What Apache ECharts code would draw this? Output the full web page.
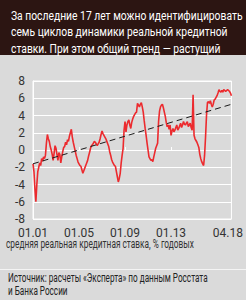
<!DOCTYPE html>
<html>
<head>
<meta charset="utf-8">
<script src="https://cdn.jsdelivr.net/npm/echarts@6/dist/echarts.min.js"></script>
<style>
html,body{margin:0;padding:0;background:#dadada;}
#c{width:246px;height:300px;}
</style>
</head>
<body>
<div id="c"></div>
<script>
// Monthly real lending rate, Jan 2001 .. Apr 2018 (% per year)
var rateValues = [
-1.6,-2.5,-4.5,-6.0,-4.0,-2.5,-2.0,-1.5,-1.8,-1.0,-1.3,-0.8,
-1.0,-0.6,0.8,1.8,1.3,1.0,0.4,0.0,-0.5,-1.2,-0.4,0.5,
0.2,-0.5,-1.2,-0.3,-0.5,-1.5,-0.8,-0.2,0.3,0.4,0.9,0.6,
1.2,1.0,1.6,2.0,2.4,1.5,0.9,0.4,-0.1,-0.6,-1.0,-1.4,
-1.6,-1.8,-1.9,-2.3,-2.7,-2.4,-2.1,-1.8,-1.5,-1.2,-0.7,-0.3,
0.2,0.5,0.6,0.8,1.0,0.9,0.7,0.5,0.7,0.9,1.3,1.8,
2.2,1.9,1.7,1.5,1.3,1.0,0.7,0.4,-0.2,-0.6,-1.1,-1.4,
-1.6,-1.8,-1.9,-2.5,-3.1,-3.7,-3.3,-2.7,-1.5,-0.6,0.2,2.3,
3.3,2.1,2.9,3.3,3.5,2.9,2.5,3.2,3.6,3.9,4.1,4.3,
4.4,5.4,5.2,5.0,5.3,5.5,5.0,4.4,3.4,2.5,1.7,0.8,
0.0,-0.8,-1.0,-1.2,-1.1,-1.35,-0.8,-0.3,0.2,0.5,0.8,3.3,
4.5,5.0,5.2,5.3,4.9,4.4,3.9,3.2,2.7,2.9,2.4,2.9,
1.7,2.2,2.5,2.1,2.3,2.6,2.9,2.3,2.5,2.8,3.1,2.6,
2.9,3.3,3.0,2.9,3.1,3.3,2.7,2.9,3.1,2.6,2.3,6.4,
1.7,1.3,1.1,0.9,0.6,0.3,-0.5,-1.0,-1.35,-1.6,-1.8,-0.6,
1.5,4.0,5.5,5.6,5.4,5.7,5.3,5.0,5.3,5.8,5.9,6.1,
6.3,6.6,7.0,6.8,6.7,6.9,6.7,7.0,6.9,6.8,6.9,7.0,
6.9,6.8,6.6,6.3
];
var trendValues = [-1.6, 5.3];
var tickLabels = ["01.01", "01.05", "01.09", "01.13", "04.18"];
var yTicks = [-8, -6, -4, -2, 0, 2, 4, 6, 8];

var titleLines = ["За последние 17 лет можно идентифицировать", "семь циклов динамики реальной кредитной", "ставки. При этом общий тренд — растущий"];
var captionText = "средняя реальная кредитная ставка, % годовых";
var sourceLines = ["Источник: расчеты «Эксперта» по данным Росстата", "и Банка России"];

// categories: months Jan 2001 .. Apr 2018 as MM.YY
var categories = [];
for (var y = 2001; y <= 2018; y++) {
  for (var m = 1; m <= 12; m++) {
    if (y === 2018 && m > 4) break;
    categories.push((m < 10 ? "0" + m : "" + m) + "." + String(y).slice(2));
  }
}
var trendData = [[categories[0], trendValues[0]], [categories[categories.length - 1], trendValues[1]]];

var FONT = "Roboto, 'DejaVu Sans', sans-serif";
var ctx = document.createElement('canvas').getContext('2d');
function fitScale(text, size, target) {
  ctx.font = size + 'px ' + FONT;
  return target / ctx.measureText(text).width;
}
var titleScale = fitScale(titleLines[0], 13.5, 232);
var captionScale = fitScale(captionText, 12, 188);
var sourceScale = fitScale(sourceLines[0], 12, 200);
var tickScale = 0.82;

var chart = echarts.init(document.getElementById('c'), null, {renderer: 'svg'});
chart.setOption({
  animation: false,
  backgroundColor: '#dadada',
  grid: {left: 33, right: 11, top: 81, bottom: 81, show: true, borderColor: '#ffffff', borderWidth: 1},
  xAxis: {
    type: 'category',
    data: categories,
    boundaryGap: false,
    axisLine: {show: true, lineStyle: {color: '#ffffff', width: 1}},
    axisTick: {show: true, inside: true, length: 3, lineStyle: {color: '#ffffff'},
      interval: function (i, v) { return tickLabels.indexOf(v) >= 0; }},
    axisLabel: {
      interval: function (i, v) { return tickLabels.indexOf(v) >= 0; },
      color: '#333333', fontFamily: FONT, fontSize: 12, margin: 8,
      formatter: function (v) { return v === tickLabels[tickLabels.length - 1] ? '{r|' + v + '}' : v; },
      rich: {r: {color: '#333333', fontFamily: FONT, fontSize: 12, padding: [0, 7, 0, 0]}}
    },
    splitLine: {show: false}
  },
  yAxis: {
    type: 'value', min: yTicks[0], max: yTicks[yTicks.length - 1], interval: 2,
    axisLine: {show: true, lineStyle: {color: '#ffffff', width: 1}},
    axisTick: {show: false},
    axisLabel: {color: '#333333', fontFamily: FONT, fontSize: 12, margin: 8},
    splitLine: {show: true, lineStyle: {color: '#ffffff', width: 1}}
  },
  series: [
    {
      type: 'line', data: rateValues, symbol: 'none', z: 3,
      lineStyle: {color: '#ec2a2e', width: 1.6}
    },
    {
      type: 'line', data: trendData, symbol: 'none', z: 4,
      lineStyle: {color: '#1a1a1a', width: 1, type: [6, 4]}
    }
  ],
  graphic: [
    {type: 'rect', x: 0, y: 0, shape: {width: 246, height: 55}, style: {fill: '#2c1512'}, z: -1},
    {type: 'text', x: 11, y: 7, scaleX: titleScale, style: {text: titleLines.join('\n'), fill: '#ffffff', font: '13.5px ' + FONT, lineHeight: 16.5}},
    {type: 'text', x: 6, y: 238, scaleX: captionScale, style: {text: captionText, fill: '#333333', font: '12px ' + FONT}},
    {type: 'rect', x: 0, y: 269, shape: {width: 246, height: 1}, style: {fill: '#f4f4f4'}},
    {type: 'text', x: 8, y: 271, scaleX: sourceScale, style: {text: sourceLines.join('\n'), fill: '#222222', font: '12px ' + FONT, lineHeight: 13.5}}
  ]
});
</script>
</body>
</html>
